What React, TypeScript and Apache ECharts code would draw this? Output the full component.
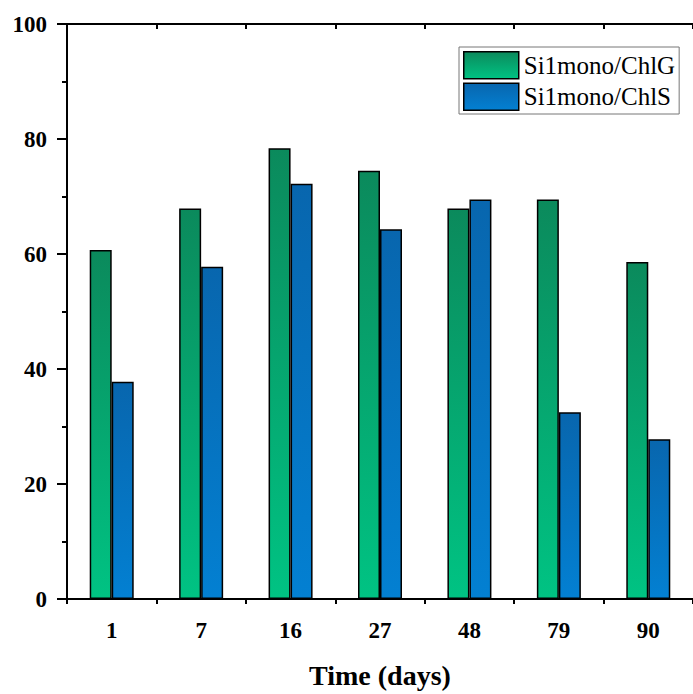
import React, { useEffect, useRef } from "react";
import * as echarts from "echarts";

const days = ["1", "7", "16", "27", "48", "79", "90"];
const chlG = [60.7, 67.9, 78.4, 74.5, 67.9, 69.5, 58.6];
const chlS = [37.8, 57.8, 72.2, 64.3, 69.5, 32.5, 27.8];
const seriesNames = ["Si1mono/ChlG", "Si1mono/ChlS"];

const FONT = "'Liberation Serif', 'Times New Roman', serif";

export default function App() {
  const ref = useRef<HTMLDivElement>(null);
  useEffect(() => {
    if (!ref.current) return;
    const chart = echarts.init(ref.current, null, { renderer: "svg" });
    const green = new echarts.graphic.LinearGradient(0, 0, 0, 1, [
      { offset: 0, color: "#0b8a5c" },
      { offset: 1, color: "#00c383" },
    ]);
    const blue = new echarts.graphic.LinearGradient(0, 0, 0, 1, [
      { offset: 0, color: "#0866ae" },
      { offset: 1, color: "#0380d2" },
    ]);
    const axisLine = { show: true, lineStyle: { color: "#000", width: 2 } };
    chart.setOption({
      animation: false,
      backgroundColor: "#fff",
      grid: { left: 67, top: 24, width: 630, height: 580 },
      legend: {
        orient: "vertical",
        left: 459,
        top: 47,
        padding: [4, 4, 3, 4],
        itemGap: 3,
        itemWidth: 55,
        itemHeight: 27,
        borderColor: "#777",
        borderWidth: 1,
        backgroundColor: "#fff",
        borderRadius: 0,
        icon: "rect",
        itemStyle: { borderColor: "#000", borderWidth: 1.5 },
        textStyle: { fontFamily: FONT, fontSize: 25, color: "#000" },
        data: seriesNames,
      },
      xAxis: [
        {
          type: "category",
          data: days,
          position: "bottom",
          axisLine,
          axisTick: { alignWithLabel: true, length: 10, lineStyle: { color: "#000", width: 2 } },
          axisLabel: { fontFamily: FONT, fontSize: 23, fontWeight: "bold", color: "#000", margin: 20 },
          name: "Time (days)",
          nameLocation: "middle",
          nameGap: 62,
          nameTextStyle: { fontFamily: FONT, fontSize: 28, fontWeight: "bold", color: "#000" },
          splitLine: { show: false },
        },
        {
          type: "value",
          position: "bottom",
          min: 0,
          max: 7,
          interval: 1,
          axisLine: { show: false },
          axisTick: { show: true, length: 5, lineStyle: { color: "#000", width: 2 } },
          axisLabel: { show: false },
          splitLine: { show: false },
        },
        {
          type: "category",
          data: days,
          position: "top",
          axisLine,
          axisTick: { inside: true, alignWithLabel: true, length: 10, lineStyle: { color: "#000", width: 2 } },
          axisLabel: { show: false },
          splitLine: { show: false },
        },
        {
          type: "value",
          position: "top",
          min: 0,
          max: 7,
          interval: 1,
          axisLine: { show: false },
          axisTick: { show: true, inside: true, length: 5, lineStyle: { color: "#000", width: 2 } },
          axisLabel: { show: false },
          splitLine: { show: false },
        },
      ],
      yAxis: [
        {
          type: "value",
          position: "left",
          min: 0,
          max: 100,
          interval: 20,
          axisLine,
          axisTick: { show: true, length: 10, lineStyle: { color: "#000", width: 2 } },
          minorTick: { show: true, splitNumber: 2, length: 5, lineStyle: { color: "#000", width: 2 } },
          axisLabel: { fontFamily: FONT, fontSize: 23, fontWeight: "bold", color: "#000", margin: 20 },
          splitLine: { show: false },
          minorSplitLine: { show: false },
        },
        {
          type: "value",
          position: "right",
          min: 0,
          max: 100,
          interval: 20,
          axisLine,
          axisTick: { show: true, inside: true, length: 10, lineStyle: { color: "#000", width: 2 } },
          axisLabel: { show: false },
          splitLine: { show: false },
        },
      ],
      series: [
        {
          name: seriesNames[0],
          type: "bar",
          xAxisIndex: 0,
          yAxisIndex: 0,
          data: chlG,
          barWidth: 22,
          barGap: "0%",
          itemStyle: { color: green, borderColor: "#000", borderWidth: 1.5 },
        },
        {
          name: seriesNames[1],
          type: "bar",
          xAxisIndex: 0,
          yAxisIndex: 0,
          data: chlS,
          barWidth: 22,
          barGap: "0%",
          itemStyle: { color: blue, borderColor: "#000", borderWidth: 1.5 },
        },
      ],
    });
    return () => chart.dispose();
  }, []);
  return (
    <div
      ref={ref}
      style={{ position: "fixed", left: 0, top: 0, width: 693, height: 694, background: "#fff" }}
    />
  );
}
